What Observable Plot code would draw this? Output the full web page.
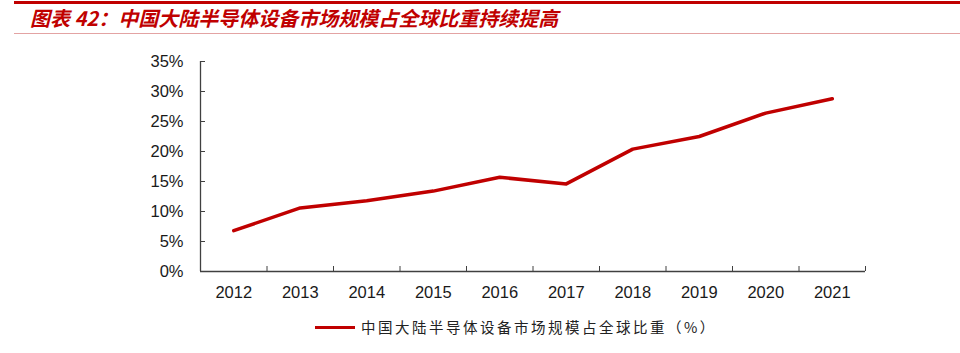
<!DOCTYPE html>
<html><head><meta charset="utf-8">
<script src="https://cdn.jsdelivr.net/npm/d3@7"></script>
<script src="https://cdn.jsdelivr.net/npm/@observablehq/plot@0.6"></script>
<style>
body{margin:0;background:#fff;width:960px;height:353px;position:relative;overflow:hidden;font-family:"Liberation Sans",Arial,sans-serif;}
#topline{position:absolute;left:14px;top:1px;width:946px;height:3px;background:#C00000;}
#title{position:absolute;left:30px;top:6px;font-family:"Noto Sans CJK SC",sans-serif;font-weight:bold;font-style:italic;font-size:20px;color:#C00000;line-height:24px;white-space:nowrap;}
#subline{position:absolute;left:14px;top:33px;width:946px;height:1px;background:#e3a3a3;}
#chart{position:absolute;left:0;top:40px;}
#legend{position:absolute;left:315px;top:316px;display:flex;align-items:center;white-space:nowrap;}
#legend .sw{width:40px;height:3px;background:#C00000;margin-right:6px;}
#legend .lt{font-family:"Noto Sans CJK SC",serif;font-size:14.5px;letter-spacing:2.5px;color:#222;line-height:22px;}
</style></head>
<body>
<div id="topline"></div>
<div id="title">图表 42：中国大陆半导体设备市场规模占全球比重持续提高</div>
<div id="subline"></div>
<div id="chart"></div>
<div id="legend"><div class="sw"></div><div class="lt">中国大陆半导体设备市场规模占全球比重（%）</div></div>
<script>
const years = [2012, 2013, 2014, 2015, 2016, 2017, 2018, 2019, 2020, 2021];
const share = [6.8, 10.6, 11.8, 13.4, 15.7, 14.6, 20.4, 22.5, 26.4, 28.8];
const yTicks = [0, 5, 10, 15, 20, 25, 30, 35];
const seriesName = "中国大陆半导体设备市场规模占全球比重（%）";

const data = years.map((y, i) => ({year: y, value: share[i]}));
const bounds = years.map(y => y - 0.5).concat([years[years.length - 1] + 0.5]);
const axisColor = "#404040";

const chart = Plot.plot({
  width: 960,
  height: 270,
  marginLeft: 200,
  marginRight: 95,
  marginTop: 21,
  marginBottom: 39,
  style: {fontFamily: "'Liberation Sans', Arial, sans-serif", fontSize: "16.5px", color: "#1a1a1a", background: "transparent"},
  x: {type: "linear", domain: [bounds[0], bounds[bounds.length - 1]]},
  y: {domain: [0, 35]},
  marks: [
    Plot.ruleX([bounds[0]], {y1: 0, y2: 35, stroke: axisColor, strokeWidth: 1.3}),
    Plot.ruleY([0], {stroke: axisColor, strokeWidth: 1.3}),
    Plot.axisY({ticks: yTicks, tickSize: 0, tickPadding: 17, tickFormat: d => d + "%", label: null, fill: "#1a1a1a"}),
    Plot.axisY({ticks: yTicks, tickSize: -5, tickFormat: () => "", label: null, stroke: axisColor}),
    Plot.axisX({ticks: years, tickSize: 0, tickPadding: 15, tickFormat: d => String(d), label: null, fill: "#1a1a1a"}),
    Plot.axisX({ticks: bounds.slice(1), tickSize: -5, tickFormat: () => "", label: null, stroke: axisColor}),
    Plot.line(data, {x: "year", y: "value", stroke: "#C00000", strokeWidth: 3.5, strokeLinejoin: "round", strokeLinecap: "round"})
  ]
});
document.getElementById("chart").appendChild(chart);
</script>
</body></html>
